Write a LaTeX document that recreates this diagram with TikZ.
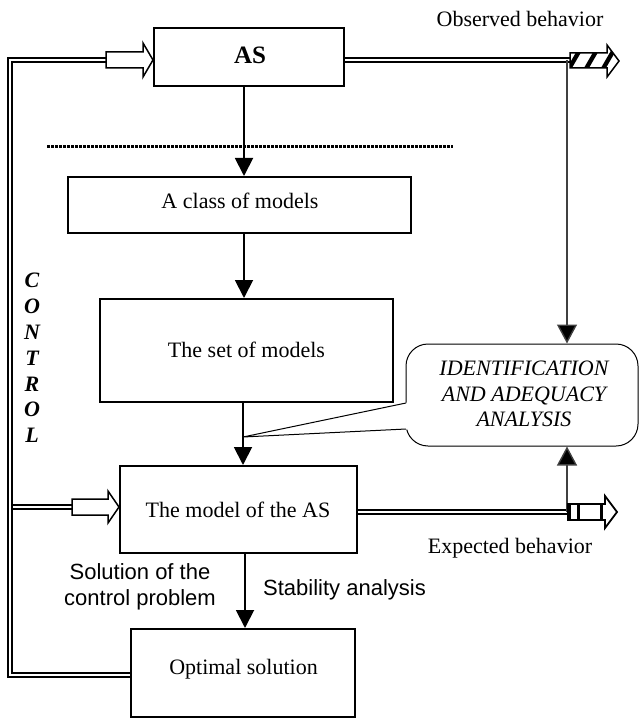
\documentclass[tikz,border=0pt]{standalone}
\usepackage{fontspec}
\setmainfont{Liberation Serif}
\newfontfamily\arialfont{Liberation Sans}
\usetikzlibrary{arrows.meta,calc}
\begin{document}
\begin{tikzpicture}[x=1pt,y=-1pt,
  box/.style={draw, line width=2pt, inner sep=0pt, fill=white},
  txt/.style={font=\fontsize{22}{25.8}\selectfont, inner sep=0pt, align=center},
  sans/.style={font=\arialfont\fontsize{22}{26}\selectfont, inner sep=0pt, align=center},
  flow/.style={line width=1.9pt, -{Triangle[width=18pt,length=18pt]}},
  thinflow/.style={line width=1.4pt, draw=black!75, -{Triangle[width=20pt,length=19pt,fill=black]}},
  dbl/.style={double, line width=2pt, double distance=2pt},
  hollow/.style={draw, line width=1.5pt, fill=white, line join=miter}]
\useasboundingbox (0,0) rectangle (639,719);

% boxes
\node[box, minimum width=190pt, minimum height=58pt] (as) at (249,57) {};
\node[txt, anchor=base, font=\bfseries\fontsize{25}{28}\selectfont] (asT) at (250,64) {AS};
\node[box, minimum width=343pt, minimum height=56pt] (class) at (239.5,205) {};
\node[txt, anchor=base] (classT) at (240,208) {A class of models};
\node[box, minimum width=293pt, minimum height=103pt] (set) at (246.5,350.5) {};
\node[txt, anchor=base] (setT) at (246.5,357) {The set of models};
\node[box, minimum width=237pt, minimum height=87pt] (model) at (238.5,509.5) {};
\node[txt, anchor=base] (modelT) at (238,517) {The model of the AS};
\node[box, minimum width=224pt, minimum height=88pt] (opt) at (243,673) {};
\node[txt, anchor=base] (optT) at (243.5,674) {Optimal solution};

% callout
\node[draw, line width=1pt, rounded corners=22pt, minimum width=232pt, minimum height=102pt, fill=white] (id) at (522,395) {};
\node[txt, font=\itshape\fontsize{22}{25.5}\selectfont] (idT) at (524,394.3) {IDENTIFICATION\\AND ADEQUACY\\ANALYSIS};
\coordinate (ptip) at (243,437);
\coordinate (pa) at (406,403);
\coordinate (pb) at (406,429);
\fill[white] (ptip) -- ($(pa)+(1.5,-0.5)$) -- ($(pb)+(1.5,0.5)$) -- cycle;
\draw[line width=1pt] (pa) -- (ptip) -- (pb);

% dotted separator
\draw[line width=3pt, dash pattern=on 3pt off 1pt] (47,147) -- (453,147);

% main flow
\coordinate (col) at (244,0);
\draw[flow] (as.south -| col) -- (class.north -| col);
\draw[flow] (class.south -| col) -- (set.north -| col);
\draw[flow] (set.south -| ptip) -- (model.north -| ptip);
\draw[flow] (model.south -| 245,0) -- (opt.north -| 245,0);

% control loop
\coordinate (inAStail) at (106,60);
\coordinate (inMtail) at (72,507);
\coordinate (lt) at (10,60);
\coordinate (lb) at (10,675);
\draw[dbl, line join=miter] (inAStail) -- (lt) -- (lb) -- (opt.west |- lb);
\draw[dbl] (13,507) -- (inMtail);

% hollow input arrows
\draw[hollow] (inAStail) ++(0,-8) -- (143,52) -- (143,43) -- (as.west |- inAStail) -- (143,77) -- (143,68) -- (106,68) -- cycle;
\draw[hollow] (inMtail) ++(0,-8) -- (108,499) -- (108,491) -- (model.west |- inMtail) -- (108,523) -- (108,515) -- (72,515) -- cycle;

% observed behavior
\coordinate (hatchtail) at (570,60);
\coordinate (obs) at (567,60);
\draw[dbl] (as.east |- hatchtail) -- (hatchtail);
\draw[thinflow] (obs) -- (obs |- id.north);
\begin{scope}
\clip (570,53) -- (607,53) -- (607,45) -- (619,61) -- (607,77) -- (607,68) -- (570,68) -- cycle;
\foreach \x in {560,577,594,611} \fill (\x,80) -- ++(5,0) -- ++(22,-38) -- ++(-5,0) -- cycle;
\end{scope}
\draw[line width=1.5pt, line join=miter] (570,53) -- (607,53) -- (607,45) -- (619,61) -- (607,77) -- (607,68) -- (570,68) -- cycle;
\node[txt, anchor=base] (obsT) at (520,27) {Observed behavior};

% expected behavior
\coordinate (exptail) at (568,512);
\coordinate (exp) at (567,512);
\draw[dbl] (model.east |- exptail) -- (exptail);
\draw[thinflow] (exp) -- (exp |- id.south);
\draw[hollow, line width=1.8pt] (568,504) -- (605,504) -- (605,496) -- (617,512) -- (605,528) -- (605,520) -- (568,520) -- cycle;
\draw[line width=3pt] (569,504) -- (569,520);
\draw[line width=3pt] (578,504) -- (578,520);
\draw[line width=3pt] (601,504) -- (601,520);
\node[txt, anchor=base] (expT) at (510,553) {Expected behavior};

% labels
\node[txt, font=\bfseries\itshape\fontsize{22}{25.8}\selectfont] (ctl) at (32,358) {C\\O\\N\\T\\R\\O\\L};
\node[sans] (solT) at (140,587) {Solution of the\\control problem};
\node[sans, anchor=base west] (stabT) at (263,595) {Stability analysis};
\end{tikzpicture}
\end{document}
